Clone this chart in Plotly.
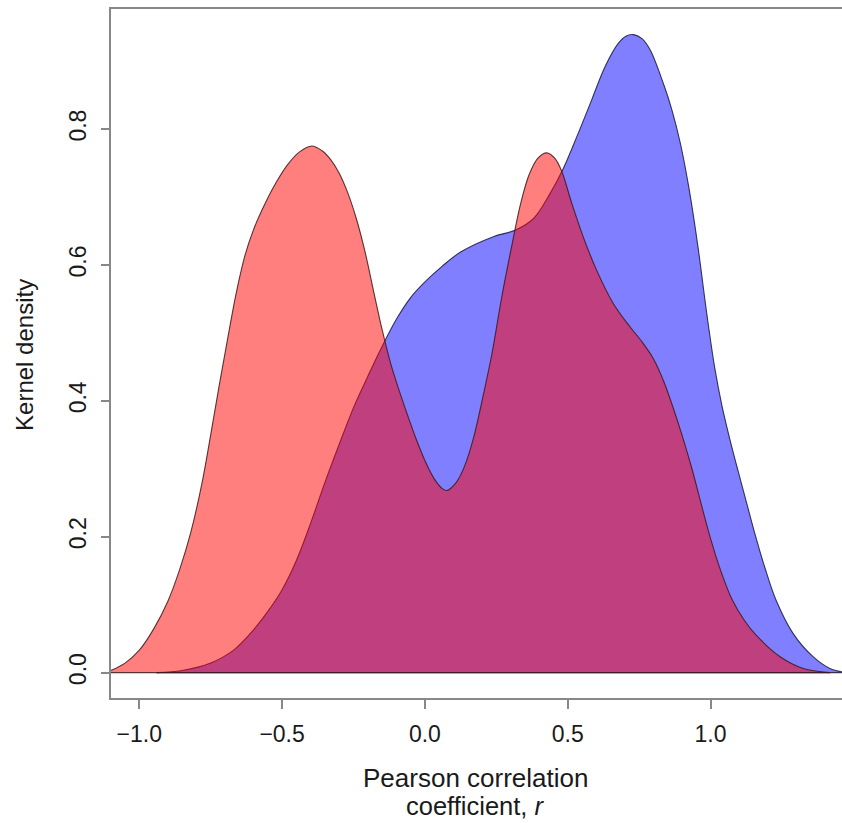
import plotly.graph_objects as go

# Kernel density curves
red_x = [-1.10, -1.05, -1.00, -0.95, -0.90, -0.86, -0.82, -0.78, -0.75, -0.72,
         -0.69, -0.66, -0.63, -0.60, -0.56, -0.52, -0.48, -0.44, -0.396, -0.36,
         -0.33, -0.30, -0.27, -0.24, -0.21, -0.18, -0.15, -0.12, -0.09, -0.06,
         -0.03, 0.00, 0.03, 0.06, 0.076, 0.110, 0.140, 0.170, 0.200, 0.235,
         0.270, 0.305, 0.335, 0.365, 0.395, 0.4265, 0.455, 0.479, 0.514, 0.5546,
         0.6015, 0.660, 0.718, 0.760, 0.800, 0.835, 0.865, 0.900, 0.935, 0.965,
         0.995, 1.030, 1.075, 1.120, 1.160, 1.245, 1.325, 1.418]
red_y = [0.003, 0.014, 0.033, 0.064, 0.105, 0.150, 0.206, 0.280, 0.350, 0.423,
         0.493, 0.560, 0.614, 0.652, 0.690, 0.722, 0.748, 0.766, 0.775, 0.768,
         0.755, 0.735, 0.706, 0.668, 0.620, 0.562, 0.505, 0.455, 0.415, 0.378,
         0.343, 0.312, 0.287, 0.271, 0.268, 0.280, 0.305, 0.345, 0.400, 0.470,
         0.555, 0.630, 0.690, 0.733, 0.757, 0.765, 0.757, 0.738, 0.691, 0.641,
         0.592, 0.543, 0.509, 0.487, 0.462, 0.430, 0.395, 0.350, 0.300, 0.252,
         0.205, 0.157, 0.108, 0.076, 0.055, 0.023, 0.006, 0.0]

blue_x = [-0.939, -0.85, -0.75, -0.67, -0.60, -0.55, -0.50, -0.45, -0.40, -0.35,
          -0.30, -0.25, -0.20, -0.15, -0.10, -0.05, 0.00, 0.06, 0.125, 0.2395,
          0.3155, 0.3796, 0.438, 0.4846, 0.537, 0.584, 0.631, 0.677, 0.705, 0.730,
          0.760, 0.788, 0.835, 0.865, 0.895, 0.925, 0.955, 0.987, 1.015, 1.040,
          1.068, 1.097, 1.125, 1.155, 1.190, 1.230, 1.290, 1.360, 1.418, 1.460]
blue_y = [0.0, 0.003, 0.014, 0.033, 0.063, 0.090, 0.122, 0.165, 0.220, 0.280,
          0.336, 0.390, 0.436, 0.480, 0.520, 0.552, 0.575, 0.598, 0.619, 0.6416,
          0.651, 0.668, 0.705, 0.742, 0.794, 0.843, 0.892, 0.926, 0.937, 0.939,
          0.933, 0.917, 0.867, 0.828, 0.778, 0.712, 0.630, 0.528, 0.448, 0.393,
          0.343, 0.296, 0.252, 0.205, 0.155, 0.106, 0.057, 0.023, 0.006, 0.001]

y_ticks = [0.0, 0.2, 0.4, 0.6, 0.8]
x_ticks = [-1.0, -0.5, 0.0, 0.5, 1.0]
x_tick_text = ["\u22121.0", "\u22120.5", "0.0", "0.5", "1.0"]
y_tick_text = ["0.0", "0.2", "0.4", "0.6", "0.8"]

FONT = "Liberation Sans, Arial, sans-serif"
TXT = "#1a1a1a"

fig = go.Figure()

def add_density(xs, ys, fill, edge):
    fig.add_trace(go.Scatter(x=xs, y=ys, mode="lines", fill="tozeroy",
                             fillcolor=fill,
                             line=dict(color=edge, width=1.1, shape="spline", smoothing=1.0),
                             hoverinfo="skip", showlegend=False))
    fig.add_trace(go.Scatter(x=[xs[0], xs[-1]], y=[0, 0], mode="lines",
                             line=dict(color=edge, width=1.1),
                             hoverinfo="skip", showlegend=False))

add_density(blue_x, blue_y, "rgba(0,0,255,0.5)", "rgba(25,25,60,0.85)")
add_density(red_x, red_y, "rgba(255,0,0,0.5)", "rgba(60,25,25,0.85)")

fig.update_layout(
    width=842, height=823,
    margin=dict(l=111, r=0, t=9, b=125),
    paper_bgcolor="white", plot_bgcolor="white",
    font=dict(family=FONT, color=TXT, size=23),
    xaxis=dict(range=[-1.0991, 1.4604], tickvals=x_ticks, ticktext=x_tick_text,
               showgrid=False, zeroline=False, showline=True, mirror=True,
               linecolor="#888888", linewidth=1.5, ticks="outside", ticklen=9,
               tickcolor="#888888", tickwidth=1.5, tickfont=dict(size=23, color=TXT),
               ticklabelstandoff=6),
    yaxis=dict(range=[-0.0374, 0.9767], tickvals=y_ticks, ticktext=y_tick_text,
               showgrid=False, zeroline=False, showline=True,
               linecolor="#888888", linewidth=1.5, ticks="outside", ticklen=8,
               tickcolor="#888888", tickwidth=1.5, tickangle=-90,
               tickfont=dict(size=23, color=TXT), ticklabelstandoff=6),
    annotations=[
        dict(text="Pearson correlation", xref="paper", yref="paper",
             x=(475 - 111) / 731, y=(697.7 - 778) / 688.3, xanchor="center", yanchor="middle",
             showarrow=False, font=dict(size=26, family=FONT, color=TXT)),
        dict(text="coefficient, <i>r</i>", xref="paper", yref="paper",
             x=(475 - 111) / 731, y=(697.7 - 806) / 688.3, xanchor="center", yanchor="middle",
             showarrow=False, font=dict(size=25.5, family=FONT, color=TXT)),
        dict(text="Kernel density", xref="paper", yref="paper", textangle=-90,
             x=(25 - 111) / 731, y=(697.7 - 355) / 688.3, xanchor="center", yanchor="middle",
             showarrow=False, font=dict(size=24, family=FONT, color=TXT)),
    ],
)

fig.write_html("out.html")
